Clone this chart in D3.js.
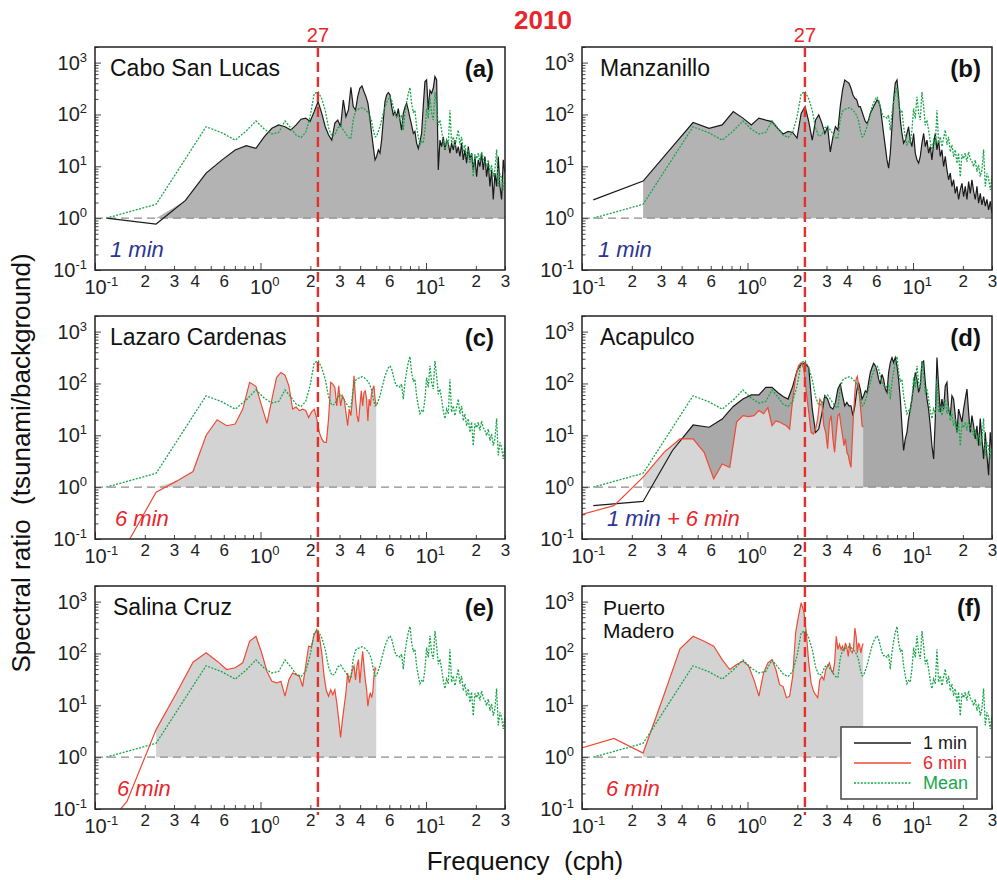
<!DOCTYPE html>
<html>
<head>
<meta charset="utf-8">
<script src="https://cdn.jsdelivr.net/npm/d3@7"></script>
<style>
  body { margin: 0; background: #fff; }
  svg { display: block; }
  text { font-family: Arial, "Liberation Sans", sans-serif; white-space: pre; }
</style>
</head>
<body>
<svg id="chart" width="997" height="880"></svg>
<script>
// frequencies (cph) of the 1-min spectra: bins 1..40, then sampled to Nyquist
const freq1 = [0.117,0.234,0.352,0.469,0.586,0.703,0.820,0.938,1.055,1.172,
  1.289,1.406,1.523,1.641,1.758,1.875,1.992,2.109,2.227,2.344,
  2.461,2.578,2.695,2.813,2.930,3.047,3.164,3.281,3.398,3.516,
  3.633,3.750,3.867,3.984,4.102,4.219,4.336,4.453,4.570,4.688,
  4.80,4.92,5.03,5.15,5.27,5.39,5.52,5.65,5.78,5.92,
  6.06,6.20,6.34,6.49,6.64,6.80,6.96,7.12,7.29,7.46,
  7.63,7.81,8.00,8.18,8.38,8.57,8.77,8.98,9.19,9.40,
  9.62,9.85,10.08,10.32,10.56,10.81,11.06,11.32,11.59,11.86,
  12.14,12.42,12.71,13.01,13.32,13.63,13.95,14.27,14.61,14.95,
  15.30,15.66,16.03,16.40,16.79,17.18,17.58,18.00,18.42,18.85,
  19.29,19.75,20.21,20.68,21.17,21.67,22.17,22.69,23.23,23.77,
  24.33,24.90,25.48,26.08,26.69,27.32,27.96,28.61,29.28,29.97];

// frequencies (cph) of the 6-min spectra
const freq6 = [0.078,0.156,0.234,0.313,0.391,0.469,0.547,0.625,0.703,0.781,
  0.859,0.938,1.016,1.094,1.172,1.250,1.328,1.406,1.484,1.563,
  1.641,1.719,1.797,1.875,1.953,2.031,2.109,2.188,2.266,2.344,
  2.422,2.500,2.578,2.656,2.734,2.813,2.891,2.969,3.047,3.125,
  3.203,3.281,3.359,3.438,3.516,3.594,3.672,3.750,3.828,3.906,
  3.984,4.063,4.141,4.219,4.297,4.375,4.453,4.531,4.609,4.688,
  4.766,4.844,4.922,5.000];

// spectral ratios
const meanRatio = [1.0,1.85,14,58,44,32,48,75,52,42,
  45,75,55,40,36,45,90,250,275,200,
  120,55,38,40,55,60,50,42,36,34,
  80,115,125,128,135,130,120,110,95,75,
  50,37,38,47,58,78,105,140,170,200,
  219,189,140,105,90,92,84,97,50,105,
  170,253,330,163,110,121,58,37,26,30,
  28,50,130,84,219,105,78,270,140,62,
  78,50,30,21,32,26,121,28,37,24,
  35,50,26,37,19,26,15.3,21,11.4,18,
  6.3,17,14,18,12.3,19,14,12.3,9.9,13.2,
  7.9,10.6,6.3,8.5,21,4.1,7.3,5.9,3.5,6.3];

const cabo1 = [1.0,0.77,2.2,7.4,13.3,20.7,25,22.3,37.5,54,
  63,58,50,63,81,85,73,113,177,105,
  58,40,32,68,78,58,190,91,122,334,
  142,122,220,320,355,276,220,165,91,44,
  24,13.3,15.5,20.7,18,32,78,177,237,265,
  237,142,98,113,91,130,78,50,105,138,
  165,122,85,63,43,47,28,22,30,43,
  142,430,463,122,290,256,320,540,463,8.5,
  32,24,37,20.7,32,28,18,28,20.7,32,
  18,24,15.5,28,13.3,20.7,11.5,24,13.3,18,
  8.5,15.5,6.3,13.3,9.9,18,8.5,15.5,6.3,11.5,
  4.1,8.5,2.3,7.4,4.1,15.5,4.1,2.3,13.3,7.4];

const manzanillo1 = [2.25,5.2,24,70,54,63,114,85,63,85,
  78,73,54,42,47,45,35,105,142,73,
  32,78,98,68,43,58,19,37,58,50,
  142,296,463,430,400,320,237,205,191,142,
  142,113,91,73,68,78,105,122,142,165,
  191,177,142,78,43,24,13.3,9.2,18,58,
  191,400,463,220,78,43,28,32,43,58,
  32,24,43,18,13.3,11.5,15.5,28,43,24,
  32,18,24,13.3,28,43,20.7,32,15.5,20.7,
  9.9,15.5,8.5,5.5,7.4,4.1,5.5,3.0,4.1,2.3,
  3.5,4.7,2.6,4.1,2.3,5.1,3.0,5.5,3.3,2.3,
  4.1,1.95,3.0,1.8,2.6,1.7,2.3,1.45,2.1,1.25];

const acapulco1 = [0.44,0.53,5.1,15.8,14.3,20.6,36,50,60,60,
  84,84,67,56,50,88,175,235,245,203,
  32,11.4,13.2,26,58,50,35,32,43,78,
  97,58,37,43,37,37,24,37,72,105,
  78,50,58,72,67,105,163,203,245,219,
  175,121,97,150,121,78,67,163,253,315,
  253,315,219,121,50,15.3,5.1,8.5,11.4,21,
  32,50,90,163,121,67,90,253,270,105,
  50,32,15.3,6.3,3.5,21,315,90,28,50,
  32,90,105,32,24,58,50,24,11.4,32,
  24,18,32,50,78,28,11.4,24,15.3,8.5,
  15.3,6.3,21,8.5,3.5,11.4,4.1,1.7,11.4,5.5];

const lazaro6 = [0.01,0.08,0.8,1.32,2.0,9.9,20,15.3,16.5,32,
  105,88,37,17,50,130,163,145,90,32,
  35,30,32,30,22,28,32,21,11.4,8.5,
  7.3,7.3,21,105,97,84,37,90,37,58,
  50,28,15.3,32,24,50,140,50,24,18,
  37,72,37,67,72,50,19,50,37,67,
  78,90,50,37];

const acapulco6 = [0.24,0.44,1.56,4.7,8.5,8.5,4.7,1.45,2.8,2.4,
  18,24,23,24,30,26,34,15.3,19,18,
  16.5,15.3,13.2,50,130,219,253,189,67,28,
  11.4,10.6,13.2,21,50,43,15.3,11.4,5.5,18,
  24,8.5,4.7,11.4,24,26,15.3,9.9,6.3,8.5,
  4.7,4.1,3.0,2.4,8.5,28,67,121,137,90,
  50,28,15.3,14.3];

const salina6 = [0.01,0.14,3.4,18,68,103,71,49,53,66,
  172,215,103,45,29,27,29,15,31,42,
  39,36,23,57,138,134,230,290,215,103,
  36,19,15,20,16,20,11,5.3,2.4,5.3,
  9.6,17.5,42,27,36,49,57,31,57,76,
  27,57,110,57,31,20,9.6,14,17.5,14,
  17.5,36,53,49];

const madero6 = [1.2,2.3,1.2,16,123,215,172,138,76,49,
  61,71,57,31,15,42,66,76,49,25,
  23,14,15,36,250,520,950,650,250,66,
  27,19,16,14,31,36,31,49,57,66,
  49,42,66,215,120,150,120,138,110,160,
  130,88,160,110,103,130,310,215,103,160,
  138,103,138,155];

// ticks
const yDecades = [0.1, 1, 10, 100, 1000];
const yMinor = [0.2,0.3,0.4,0.5,0.6,0.7,0.8,0.9,2,3,4,5,6,7,8,9,20,30,40,50,60,70,80,90,
  200,300,400,500,600,700,800,900,2000];
const xDecades = [0.1, 1, 10];
const xMinor = [0.2,0.3,0.4,0.5,0.6,0.7,0.8,0.9,2,3,4,5,6,7,8,9,20,30];
const xMinorLabelled = [0.2,0.3,0.4,0.6,2,3,4,6,20,30];
const periodMin = 27;

const BLACK = "#1a1a1a", RED = "#e8262b", RED_LINE = "#ee4a35", GREEN = "#19a64b", BLUE = "#2b3595";

const svg = d3.select("#chart");
const W = 410, H = 223;
const cols = [95, 582], rows = [47, 316, 586];

const x = d3.scaleLog().domain([0.1, 30]).range([0, W]);
const y = d3.scaleLog().domain([0.1, 2000]).range([H, 0]);

const line = d3.line().x(d => x(d[0])).y(d => y(d[1]));
const area = d3.area().x(d => x(d[0])).y0(y(1)).y1(d => y(Math.max(d[1], 1)));

const panels = [
  {id: "(a)", col: 0, row: 0, name: ["Cabo San Lucas"], nameX: 15, tagX: 15, tag: [["1 min", BLUE]],
   series: [{f: freq1, v: cabo1, color: BLACK, fill: "#b3b3b3", start: 1}]},
  {id: "(b)", col: 1, row: 0, name: ["Manzanillo"], nameX: 18, tagX: 16, tag: [["1 min", BLUE]],
   series: [{f: freq1, v: manzanillo1, color: BLACK, fill: "#b3b3b3", start: 1}]},
  {id: "(c)", col: 0, row: 1, name: ["Lazaro Cardenas"], nameX: 15, tagX: 20, tag: [["6 min", RED]],
   series: [{f: freq6, v: lazaro6, color: RED_LINE, fill: "#d3d3d3", start: 2}]},
  {id: "(d)", col: 1, row: 1, name: ["Acapulco"], nameX: 18, tagX: 25, tag: [["1 min", BLUE], [" + 6 min", RED]],
   series: [{f: freq1, v: acapulco1, color: BLACK, fill: "#a9a9a9", start: 1},
            {f: freq6, v: acapulco6, color: RED_LINE, fill: "#d6d6d6", start: 2}]},
  {id: "(e)", col: 0, row: 2, name: ["Salina Cruz"], nameX: 18, tagX: 22, tag: [["6 min", RED]],
   series: [{f: freq6, v: salina6, color: RED_LINE, fill: "#d3d3d3", start: 2}]},
  {id: "(f)", col: 1, row: 2, name: ["Puerto", "Madero"], nameX: 21, tagX: 24, tag: [["6 min", RED]],
   series: [{f: freq6, v: madero6, color: RED_LINE, fill: "#d3d3d3", start: 2}], legend: true}
];

panels.forEach(p => {
  const g = svg.append("g").attr("transform", `translate(${cols[p.col]},${rows[p.row]})`);
  const clipId = "clip" + p.col + p.row;
  g.append("clipPath").attr("id", clipId).append("rect").attr("width", W).attr("height", H);
  const plot = g.append("g").attr("clip-path", `url(#${clipId})`);

  p.series.forEach(s => {
    plot.append("path").datum(d3.zip(s.f, s.v).slice(s.start))
      .attr("d", area).attr("fill", s.fill);
  });

  plot.append("line").attr("x1", 0).attr("x2", W).attr("y1", y(1)).attr("y2", y(1))
    .attr("stroke", "#8c8c8c").attr("stroke-width", 1.2).attr("stroke-dasharray", "8,5");

  p.series.forEach(s => {
    plot.append("path").datum(d3.zip(s.f, s.v)).attr("d", line)
      .attr("fill", "none").attr("stroke", s.color).attr("stroke-width", 1.2);
  });

  plot.append("path").datum(d3.zip(freq1, meanRatio)).attr("d", line)
    .attr("fill", "none").attr("stroke", GREEN).attr("stroke-width", 1.3)
    .attr("stroke-dasharray", "2,1.4");

  // y axis
  const ya = g.append("g").call(d3.axisLeft(y).tickValues(yMinor).tickSize(-3.5).tickFormat(""));
  const yb = g.append("g").call(d3.axisLeft(y).tickValues(yDecades).tickSize(-6).tickPadding(8).tickFormat(""));
  yb.selectAll(".tick text").each(function(d) {
    const t = d3.select(this).attr("font-size", 20).attr("fill", "#222").attr("text-anchor", "end");
    t.append("tspan").text("10");
    t.append("tspan").attr("dy", -8).attr("font-size", 13).text(Math.round(Math.log10(d)));
  });

  // x axis
  const xa = g.append("g").attr("transform", `translate(0,${H})`)
    .call(d3.axisBottom(x).tickValues(xMinor).tickSize(-4).tickPadding(5)
      .tickFormat(d => xMinorLabelled.includes(d)
        ? String(Math.round(d / Math.pow(10, Math.floor(Math.log10(d) + 1e-9)))) : ""));
  xa.selectAll(".tick text").attr("font-size", 17).attr("fill", "#222");
  const xb = g.append("g").attr("transform", `translate(0,${H})`)
    .call(d3.axisBottom(x).tickValues(xDecades).tickSize(-7).tickPadding(10).tickFormat(""));
  xb.selectAll(".tick text").each(function(d) {
    const t = d3.select(this).attr("font-size", 20).attr("fill", "#222")
      .attr("text-anchor", "start").attr("x", -11);
    t.append("tspan").text("10");
    t.append("tspan").attr("dy", -8).attr("font-size", 13).text(Math.round(Math.log10(d)));
  });
  [ya, yb, xa, xb].forEach(a => {
    a.select(".domain").remove();
    a.selectAll(".tick line").attr("stroke", "#444");
  });

  g.append("rect").attr("width", W).attr("height", H)
    .attr("fill", "none").attr("stroke", "#222").attr("stroke-width", 1.5);

  // station name, panel letter, sampling tag
  const twoLines = p.name.length > 1;
  p.name.forEach((n, i) => {
    g.append("text").attr("x", p.nameX).attr("y", 29 + i * 23)
      .attr("font-size", twoLines ? 21 : 23).attr("fill", "#111").text(n);
  });
  g.append("text").attr("x", 399).attr("y", 30).attr("text-anchor", "end")
    .attr("font-size", 24).attr("font-weight", "bold").attr("fill", "#111").text(p.id);
  const tag = g.append("text").attr("x", p.tagX).attr("y", 210)
    .attr("font-size", 22).attr("font-style", "italic");
  p.tag.forEach(t => tag.append("tspan").attr("fill", t[1]).text(t[0]));

  if (p.legend) {
    const lg = g.append("g").attr("transform", "translate(259,141)");
    lg.append("rect").attr("width", 136).attr("height", 72)
      .attr("fill", "#fff").attr("stroke", "#444").attr("stroke-width", 1.5);
    const items = [["1 min", BLACK, BLACK, null], ["6 min", RED_LINE, RED, null], ["Mean", GREEN, GREEN, "2,1.4"]];
    items.forEach((it, i) => {
      lg.append("line").attr("x1", 13).attr("x2", 70).attr("y1", 16 + i * 20).attr("y2", 16 + i * 20)
        .attr("stroke", it[1]).attr("stroke-width", 1.3).attr("stroke-dasharray", it[3]);
      lg.append("text").attr("x", 82).attr("y", 22 + i * 20).attr("font-size", 18)
        .attr("fill", it[2]).text(it[0]);
    });
  }
});

// 27-min period line
const fPeriod = 60 / periodMin;
cols.forEach(c => {
  svg.append("line").attr("x1", c + x(fPeriod)).attr("x2", c + x(fPeriod))
    .attr("y1", rows[0]).attr("y2", 815)
    .attr("stroke", "#e5302a").attr("stroke-width", 2.4).attr("stroke-dasharray", "10,5");
  svg.append("text").attr("x", c + x(fPeriod)).attr("y", 42).attr("text-anchor", "middle")
    .attr("font-size", 20).attr("fill", RED).text(periodMin);
});

svg.append("text").attr("x", 543).attr("y", 29).attr("text-anchor", "middle")
  .attr("font-size", 26).attr("font-weight", "bold").attr("fill", RED).text("2010");

svg.append("text").attr("transform", "translate(30,463) rotate(-90)").attr("text-anchor", "middle")
  .attr("font-size", 26).attr("fill", "#111").text("Spectral ratio  (tsunami/background)");

svg.append("text").attr("x", 525).attr("y", 870).attr("text-anchor", "middle")
  .attr("font-size", 26).attr("fill", "#111").text("Frequency  (cph)");
</script>
</body>
</html>
